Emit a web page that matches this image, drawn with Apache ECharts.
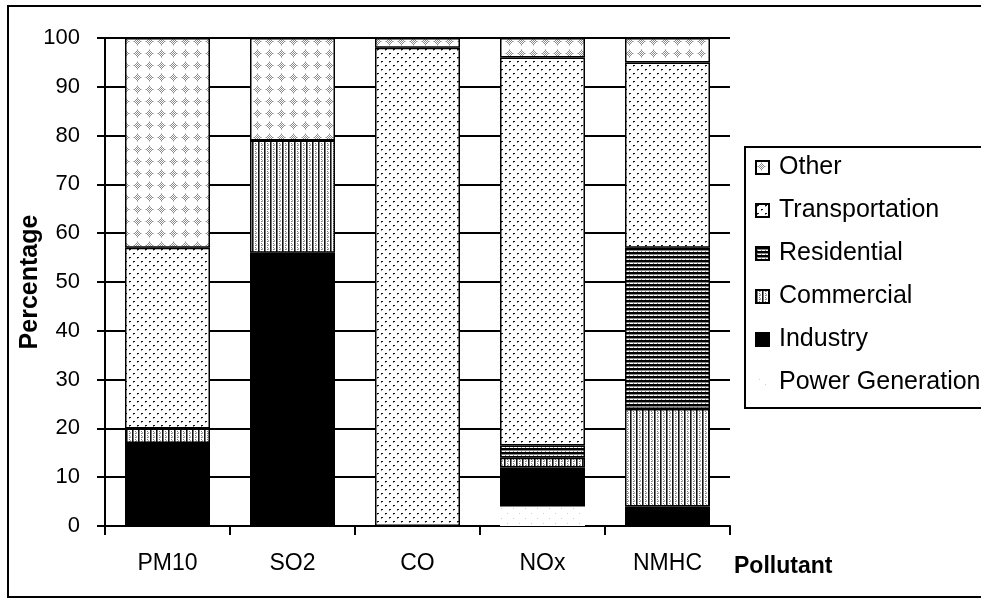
<!DOCTYPE html>
<html><head><meta charset="utf-8">
<script src="https://cdn.jsdelivr.net/npm/echarts@6/dist/echarts.min.js"></script>
<style>html,body{margin:0;padding:0;background:#fff}#c{width:981px;height:600px}</style>
</head><body><div id="c"></div>
<script>
var categories = ['PM10', 'SO2', 'CO', 'NOx', 'NMHC'];
var powerGeneration = [0, 0, 0, 4, 0];
var industry = [17, 56, 0, 8, 4];
var commercial = [3, 23, 0, 2, 20];
var residential = [0, 0, 0, 2.5, 33];
var transportation = [37, 0, 98, 79.5, 38];
var other = [43, 21, 2, 4, 5];
var yTicks = [0, 10, 20, 30, 40, 50, 60, 70, 80, 90, 100];

function pat(w, h, draw) {
  var c = document.createElement('canvas'); c.width = w; c.height = h;
  var g = c.getContext('2d'); g.fillStyle = '#fff'; g.fillRect(0, 0, w, h);
  draw(g); return { image: c, repeat: 'repeat' };
}
var pOther = pat(12, 12, function (g) {
  g.fillStyle = '#8a8a8a';
  var pts = [[5,2],[4,3],[6,3],[3,4],[5,4],[7,4],[2,5],[4,5],[6,5],[8,5],[3,6],[5,6],[7,6],[4,7],[6,7],[5,8]];
  pts.forEach(function (p) { g.fillRect(p[0], p[1], 1, 1); });
  g.fillStyle = '#c8c8c8'; g.fillRect(5, 1, 1, 1); g.fillRect(1, 5, 1, 1); g.fillRect(9, 5, 1, 1); g.fillRect(5, 9, 1, 1);
});
var pTrans = pat(8, 8, function (g) {
  g.fillStyle = '#111'; g.fillRect(1, 1, 2, 1); g.fillRect(5, 5, 2, 1);
  g.fillStyle = '#888'; g.fillRect(1, 2, 1, 1); g.fillRect(5, 6, 1, 1);
});
var pRes = pat(4, 4, function (g) {
  g.fillStyle = '#000'; g.fillRect(0, 0, 4, 2);
  g.fillStyle = '#888'; g.fillRect(0, 2, 4, 1); g.fillRect(1, 3, 1, 1);
});
var pCom = pat(6, 4, function (g) {
  g.fillStyle = '#111'; g.fillRect(0, 0, 1, 4);
  g.fillStyle = '#777'; g.fillRect(1, 0, 1, 4); g.fillRect(3, 1, 1, 1); g.fillRect(3, 3, 1, 1);
  g.fillStyle = '#aaa'; g.fillRect(4, 0, 1, 2);
});
var pPower = pat(12, 10, function (g) {
  g.fillStyle = '#d0d0d0'; g.fillRect(3, 3, 1, 1); g.fillRect(9, 8, 1, 1);
});

var FONT = 'Liberation Sans';
function mk(name, data, color, border) {
  return {
    name: name, type: 'bar', stack: 'all', data: data, barWidth: 85,
    itemStyle: { color: color, borderColor: border ? '#000' : 'transparent', borderWidth: border ? 1.5 : 0 },
    emphasis: { disabled: true }
  };
}
var chart = echarts.init(document.getElementById('c'), null, { renderer: 'canvas' });
chart.setOption({
  animation: false,
  backgroundColor: '#fff',
  grid: { left: 105, right: 251, top: 38, bottom: 74, containLabel: false },
  xAxis: {
    type: 'category', data: categories,
    name: 'Pollutant', nameLocation: 'end', nameGap: 4, nameMoveOverlap: false,
    nameTextStyle: { fontFamily: FONT, fontWeight: 'bold', fontSize: 23, color: '#000', align: 'left', verticalAlign: 'top', padding: [29, 0, 0, 0] },
    axisLine: { lineStyle: { color: '#000', width: 2 } },
    axisTick: { show: true, length: 9, lineStyle: { color: '#000', width: 2 } },
    axisLabel: { fontFamily: FONT, fontSize: 23, color: '#000', margin: 26 }
  },
  yAxis: {
    type: 'value', min: 0, max: 100, interval: 10,
    name: 'Percentage', nameLocation: 'middle', nameGap: 62, nameRotate: 90, nameMoveOverlap: false,
    nameTextStyle: { fontFamily: FONT, fontWeight: 'bold', fontSize: 25, color: '#000' },
    axisLine: { show: true, lineStyle: { color: '#000', width: 2 } },
    axisTick: { show: true, length: 8, lineStyle: { color: '#000', width: 2 } },
    axisLabel: { fontFamily: FONT, fontSize: 22, color: '#000', margin: 25,
      formatter: function (v) { return yTicks.indexOf(v) >= 0 ? String(v) : ''; } },
    splitLine: { show: true, lineStyle: { color: '#000', width: 2 } }
  },
  legend: {
    orient: 'vertical', left: 755, top: 155, padding: 0, itemGap: 18,
    icon: 'rect', itemWidth: 13, itemHeight: 13,
    textStyle: { fontFamily: FONT, fontSize: 25, color: '#000', padding: [0, 0, 0, 5] },
    data: ['Other', 'Transportation', 'Residential', 'Commercial', 'Industry', 'Power Generation'],
    selectedMode: false
  },
  graphic: [
    { type: 'rect', shape: { x: 8, y: 6, width: 1000, height: 591 }, style: { fill: 'none', stroke: '#000', lineWidth: 2 }, silent: true },
    { type: 'rect', shape: { x: 745, y: 147, width: 300, height: 261 }, style: { fill: 'none', stroke: '#000', lineWidth: 2 }, silent: true, z: 100 }
  ],
  series: [
    mk('Power Generation', powerGeneration, pPower, false),
    mk('Industry', industry, '#000', true),
    mk('Commercial', commercial, pCom, true),
    mk('Residential', residential, pRes, true),
    mk('Transportation', transportation, pTrans, true),
    mk('Other', other, pOther, true)
  ]
});
</script></body></html>
